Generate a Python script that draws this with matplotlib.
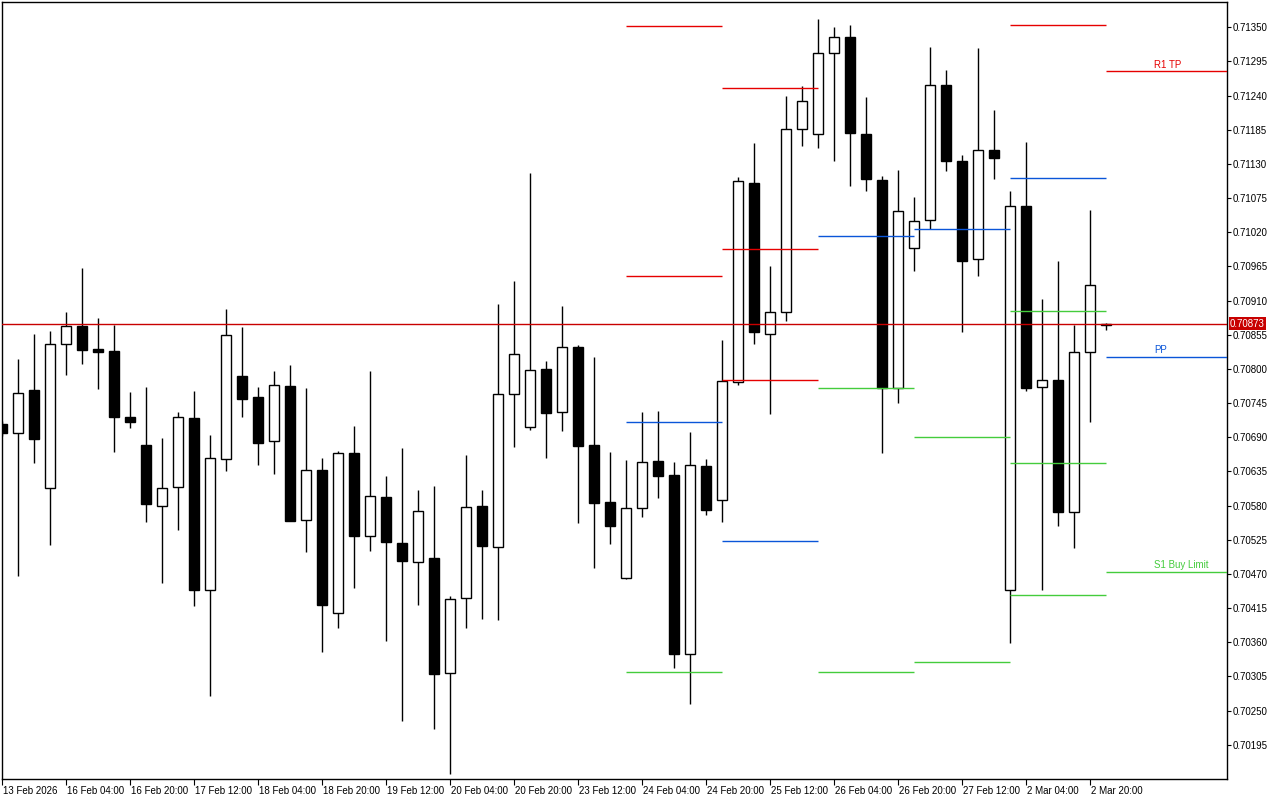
import matplotlib
matplotlib.use("Agg")
import matplotlib.pyplot as plt
from matplotlib.transforms import ScaledTranslation, blended_transform_factory

# 4h bars
opens = [0.70711, 0.70697, 0.70766, 0.70609, 0.70840, 0.70869, 0.70832, 0.70829, 0.70723, 0.70678,
         0.70580, 0.70610, 0.70721, 0.70444, 0.70655, 0.70789, 0.70755, 0.70684, 0.70773, 0.70557,
         0.70638, 0.70407, 0.70664, 0.70531, 0.70594, 0.70520, 0.70489, 0.70495, 0.70311, 0.70432,
         0.70579, 0.70513, 0.70759, 0.70706, 0.70800, 0.70730, 0.70836, 0.70677, 0.70586, 0.70463,
         0.70577, 0.70652, 0.70629, 0.70342, 0.70644, 0.70589, 0.70779, 0.71100, 0.70856, 0.70891,
         0.71186, 0.71179, 0.71308, 0.71334, 0.71179, 0.71104, 0.70769, 0.70994, 0.71039, 0.71257,
         0.71134, 0.70977, 0.71152, 0.70444, 0.71063, 0.70771, 0.70782, 0.70569, 0.70828, 0.70870]
highs = [0.70716, 0.70816, 0.70856, 0.70861, 0.70892, 0.70963, 0.70882, 0.70871, 0.70763, 0.70771,
         0.70689, 0.70730, 0.70765, 0.70694, 0.70897, 0.70868, 0.70771, 0.70797, 0.70806, 0.70770,
         0.70656, 0.70668, 0.70709, 0.70796, 0.70627, 0.70672, 0.70605, 0.70611, 0.70435, 0.70662,
         0.70605, 0.70905, 0.70941, 0.71116, 0.70813, 0.70902, 0.70838, 0.70820, 0.70666, 0.70653,
         0.70731, 0.70732, 0.70650, 0.70699, 0.70655, 0.70847, 0.71109, 0.71163, 0.70966, 0.71239,
         0.71255, 0.71363, 0.71350, 0.71354, 0.71238, 0.71111, 0.71120, 0.71077, 0.71318, 0.71281,
         0.71144, 0.71317, 0.71217, 0.71086, 0.71165, 0.70913, 0.70974, 0.70871, 0.71056, 0.70874]
lows = [0.70692, 0.70466, 0.70648, 0.70517, 0.70791, 0.70808, 0.70767, 0.70667, 0.70705, 0.70553,
        0.70456, 0.70540, 0.70419, 0.70274, 0.70636, 0.70722, 0.70646, 0.70631, 0.70555, 0.70505,
        0.70344, 0.70383, 0.70447, 0.70507, 0.70362, 0.70234, 0.70420, 0.70221, 0.70148, 0.70383,
        0.70398, 0.70396, 0.70675, 0.70701, 0.70657, 0.70700, 0.70552, 0.70479, 0.70518, 0.70462,
        0.70562, 0.70593, 0.70318, 0.70261, 0.70565, 0.70553, 0.70774, 0.70841, 0.70728, 0.70878,
        0.71159, 0.71156, 0.71135, 0.71095, 0.71087, 0.70664, 0.70746, 0.70957, 0.71026, 0.71119,
        0.70860, 0.70949, 0.71106, 0.70359, 0.70765, 0.70445, 0.70548, 0.70512, 0.70714, 0.70863]
closes = [0.70697, 0.70761, 0.70688, 0.70840, 0.70869, 0.70831, 0.70828, 0.70722, 0.70715, 0.70582,
          0.70608, 0.70722, 0.70445, 0.70656, 0.70854, 0.70752, 0.70681, 0.70774, 0.70556, 0.70638,
          0.70420, 0.70664, 0.70531, 0.70596, 0.70521, 0.70491, 0.70572, 0.70309, 0.70430, 0.70578,
          0.70515, 0.70760, 0.70824, 0.70799, 0.70729, 0.70836, 0.70676, 0.70584, 0.70547, 0.70577,
          0.70650, 0.70628, 0.70342, 0.70645, 0.70573, 0.70780, 0.71102, 0.70859, 0.70891, 0.71186,
          0.71231, 0.71308, 0.71334, 0.71180, 0.71105, 0.70769, 0.71054, 0.71038, 0.71257, 0.71134,
          0.70973, 0.71152, 0.71140, 0.71063, 0.70770, 0.70782, 0.70570, 0.70828, 0.70935, 0.70873]

time_labels = ["13 Feb 2026", "16 Feb 04:00", "16 Feb 20:00", "17 Feb 12:00", "18 Feb 04:00",
               "18 Feb 20:00", "19 Feb 12:00", "20 Feb 04:00", "20 Feb 20:00", "23 Feb 12:00",
               "24 Feb 04:00", "24 Feb 20:00", "25 Feb 12:00", "26 Feb 04:00", "26 Feb 20:00",
               "27 Feb 12:00", "2 Mar 04:00", "2 Mar 20:00"]

# daily pivot levels, one entry per day (first bar index of the day)
day_first_bar = [39, 45, 51, 57, 63, 69]
red_levels = [[0.71352, 0.70949], [0.71253, 0.70993, 0.70783], [], [], [0.71353], [0.71279]]
blue_levels = [[0.70714], [0.70523], [0.71014], [0.71026], [0.71107], [0.70819]]
green_levels = [[0.70313], [], [0.70770, 0.70312], [0.70691, 0.70328],
                [0.70894, 0.70648, 0.70436], [0.70474]]
last_labels = {"R1 TP": 0.71279, "PP": 0.70819, "S1 Buy Limit": 0.70474}

last_price = 0.70873
y_ticks = [0.71350, 0.71295, 0.71240, 0.71185, 0.71130, 0.71075, 0.71020, 0.70965, 0.70910,
           0.70855, 0.70800, 0.70745, 0.70690, 0.70635, 0.70580, 0.70525, 0.70470, 0.70415,
           0.70360, 0.70305, 0.70250, 0.70195]

RED = "#e60000"
BLUE = "#0a55d8"
GREEN = "#44cc3c"

plt.rcParams["font.family"] = ["Liberation Sans", "DejaVu Sans"]

fig = plt.figure(figsize=(12.8, 8), dpi=100)
ax = fig.add_axes([2 / 1280, 21 / 800, 1225 / 1280, 777 / 800])

x_right = 76.54
n = len(opens)
xs = list(range(n))

# candles
ax.vlines(xs, lows, highs, color="black", linewidth=1.0, zorder=2)
bottoms = [min(o, c) for o, c in zip(opens, closes)]
heights = [max(abs(c - o), 0.000012) for o, c in zip(opens, closes)]
faces = ["white" if c >= o else "black" for o, c in zip(opens, closes)]
ax.bar(xs, heights, bottom=bottoms, width=0.62, color=faces, edgecolor="black",
       linewidth=1.0, zorder=3)

# pivot segments
ends = day_first_bar[1:] + [x_right]
for start, end, reds, blues, greens in zip(day_first_bar, ends, red_levels, blue_levels, green_levels):
    for levels, col in ((reds, RED), (blues, BLUE), (greens, GREEN)):
        if levels:
            ax.hlines(levels, start, end, colors=col, linewidth=1.0, zorder=4)

label_cols = {"R1 TP": RED, "PP": BLUE, "S1 Buy Limit": GREEN}
for name, lvl in last_labels.items():
    ax.text(72.0, lvl + 0.00003, name, color=label_cols[name], fontsize=7,
            ha="left", va="bottom", zorder=5)

# current price
ax.axhline(last_price, color="#c80000", linewidth=1.0, zorder=4)
trans = blended_transform_factory(ax.transAxes, ax.transData)
ax.text(1.0025, last_price, f"{last_price:.5f}", transform=trans, color="white",
        fontsize=7, ha="left", va="center", zorder=6,
        bbox=dict(boxstyle="square,pad=0.15", facecolor="#c80000", edgecolor="none"))

ax.set_xlim(-0.02, x_right)
ax.set_ylim(0.70140, 0.713907)

ax.yaxis.tick_right()
ax.set_yticks(y_ticks)
ax.set_yticklabels([f"{v:.5f}" for v in y_ticks])
ax.tick_params(axis="y", direction="out", length=3, width=0.8, pad=1, labelsize=7)

ax.set_xticks(list(range(0, n, 4)))
ax.set_xticklabels(time_labels, ha="left")
ax.tick_params(axis="x", direction="out", length=4, width=0.8, pad=1, labelsize=7)
shift = ScaledTranslation(1 / 100, 0, fig.dpi_scale_trans)
for lab in ax.get_xticklabels():
    lab.set_transform(lab.get_transform() + shift)

for sp in ax.spines.values():
    sp.set_linewidth(1.0)
    sp.set_color("black")

fig.savefig("out.png", dpi=100)
